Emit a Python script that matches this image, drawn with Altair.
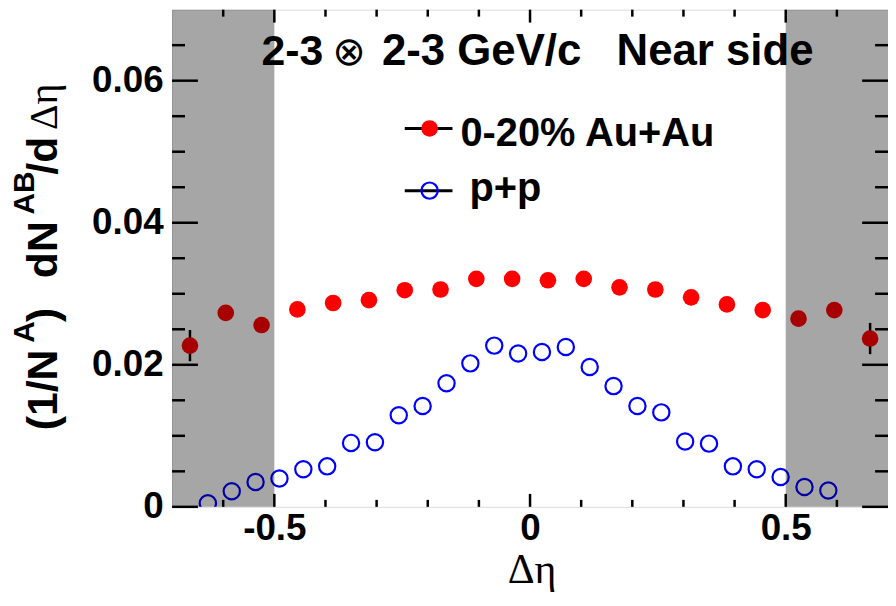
import altair as alt
import pandas as pd

# ---------------- data ----------------
auau_x = [-0.665, -0.595, -0.525, -0.455, -0.385, -0.315, -0.245, -0.175, -0.105, -0.035,
          0.035, 0.105, 0.175, 0.245, 0.315, 0.385, 0.455, 0.525, 0.595, 0.665]
auau_y = [0.0227, 0.0273, 0.0256, 0.0278, 0.0287, 0.0291, 0.0305, 0.0306, 0.0321, 0.0321,
          0.0319, 0.0321, 0.0309, 0.0306, 0.0295, 0.0285, 0.0277, 0.0265, 0.0277, 0.0237]
auau_err = [0.0022, 0.0010, 0.0009, 0.0007, 0.0007, 0.0007, 0.0007, 0.0007, 0.0007, 0.0007,
            0.0007, 0.0007, 0.0007, 0.0007, 0.0007, 0.0007, 0.0007, 0.0009, 0.0010, 0.0022]

pp_x = [-0.6300, -0.5833, -0.5367, -0.4900, -0.4433, -0.3967, -0.3500, -0.3033, -0.2567,
        -0.2100, -0.1633, -0.1167, -0.0700, -0.0233, 0.0233, 0.0700, 0.1167, 0.1633,
        0.2100, 0.2567, 0.3033, 0.3500, 0.3967, 0.4433, 0.4900, 0.5367, 0.5833]
pp_y = [0.0005, 0.0022, 0.0035, 0.0040, 0.0053, 0.0057, 0.0090, 0.0091, 0.0129,
        0.0142, 0.0174, 0.0202, 0.0227, 0.0216, 0.0218, 0.0225, 0.0197, 0.0170,
        0.0142, 0.0133, 0.0092, 0.0089, 0.0057, 0.0053, 0.0042, 0.0028, 0.0023]

band_lo = [-0.7, 0.5]
band_hi = [-0.5, 0.7]

x_major = [-0.5, 0.0, 0.5]
x_minor = [-0.6, -0.4, -0.3, -0.2, -0.1, 0.1, 0.2, 0.3, 0.4, 0.6]
y_major = [0.0, 0.02, 0.04, 0.06]
y_minor = [0.005, 0.01, 0.015, 0.025, 0.03, 0.035, 0.045, 0.05, 0.055, 0.065]

x_domain = [-0.7, 0.7]
y_domain = [0.0, 0.07]

# ---------------- layout ----------------
W, H = 720, 500
SANS = "Liberation Sans"
SERIF = "Liberation Serif"
RED_SIZE = 280
BLUE_SIZE = 268

xs = alt.Scale(domain=x_domain, nice=False, zero=False)
ys = alt.Scale(domain=y_domain, nice=False, zero=False)

auau = pd.DataFrame({"x": auau_x, "y": auau_y,
                     "lo": [a - e for a, e in zip(auau_y, auau_err)],
                     "hi": [a + e for a, e in zip(auau_y, auau_err)]})
pp = pd.DataFrame({"x": pp_x, "y": pp_y})
bands = pd.DataFrame({"x0": band_lo, "x1": band_hi})
one = pd.DataFrame({"k": [0]})

xaxis = alt.Axis(values=x_major, domain=False, ticks=False, grid=False, title=None,
                 labelFont=SANS, labelFontWeight="bold", labelFontSize=37,
                 labelColor="black", labelPadding=4, labelFlush=False,
                 labelExpr="replace(format(datum.value, '.1~f'), '\u2212', '-')")
yaxis = alt.Axis(values=y_major, domain=False, ticks=False, grid=False, title=None,
                 labelFont=SANS, labelFontWeight="bold", labelFontSize=37,
                 labelColor="black", labelPadding=9, format=".2~f")


def X(field):
    return alt.X(field, scale=xs, axis=xaxis)


def Y(field):
    return alt.Y(field, scale=ys, axis=yaxis)


err = alt.Chart(auau).mark_rule(color="black", strokeWidth=2.5).encode(
    x=X("x:Q"), y=Y("lo:Q"), y2="hi:Q",
)
red = alt.Chart(auau).mark_point(shape="circle", filled=True, color="#ff0000",
                                 size=RED_SIZE, opacity=1).encode(
    x=X("x:Q"), y=Y("y:Q"),
)
blue = alt.Chart(pp).mark_point(shape="circle", filled=False, color="#0000ff",
                                size=BLUE_SIZE, strokeWidth=2.2, opacity=1, clip=True).encode(
    x=X("x:Q"), y=Y("y:Q"),
)
shade = alt.Chart(bands).mark_rect(color="black", opacity=0.35).encode(
    x=X("x0:Q"), x2="x1:Q", y=alt.value(0), y2=alt.value(H),
)


def xticks(vals, length, top):
    y0 = 0 if top else H
    y1 = length if top else H - length
    return alt.Chart(pd.DataFrame({"v": vals})).mark_rule(color="black", strokeWidth=2.5).encode(
        x=X("v:Q"), y=alt.value(y0), y2=alt.value(y1))


def yticks(vals, length, right):
    x0 = W if right else 0
    x1 = W - length if right else length
    return alt.Chart(pd.DataFrame({"v": vals})).mark_rule(color="black", strokeWidth=2.5).encode(
        y=Y("v:Q"), x=alt.value(x0), x2=alt.value(x1))


tick_layers = [
    xticks(x_major, 13, False), xticks(x_minor, 7, False),
    xticks(x_major, 13, True), xticks(x_minor, 7, True),
    yticks(y_major, 26, False), yticks(y_minor, 13, False),
    yticks(y_major, 26, True), yticks(y_minor, 13, True),
]


def label(text, x, y, size, font=SANS, weight="bold", angle=0, align="left"):
    return alt.Chart(one).mark_text(font=font, fontSize=size, fontWeight=weight,
                                    angle=angle, align=align, baseline="alphabetic",
                                    color="black").encode(
        x=alt.value(x), y=alt.value(y), text=alt.value(text))


texts = [
    label("2-3", 90, 56, 43),
    label("\u2297", 161, 56, 40, font="DejaVu Sans", weight="normal"),
    label("2-3 GeV/c", 211, 56, 44),
    label("Near side", 447, 56, 44),
    label("0-20% Au+Au", 290, 137, 40),
    label("p+p", 299, 192, 40),
    # x title
    label("\u0394\u03b7", 362, 577, 42, font=SERIF, weight="normal", align="center"),
    # y title pieces (rotated)
    label("(1/N", -116, 423, 43, angle=270),
    label("A", -139, 335, 30, angle=270),
    label(")", -116, 314, 43, angle=270),
    label("dN", -116, 270, 43, angle=270),
    label("AB", -139, 206, 30, angle=270),
    label("/d", -116, 166, 43, angle=270),
    label("\u0394\u03b7", -116, 121, 40, font=SERIF, weight="normal", angle=270),
]

legend = [
    alt.Chart(one).mark_rule(color="black", strokeWidth=3).encode(
        x=alt.value(234), x2=alt.value(282), y=alt.value(119.5)),
    alt.Chart(one).mark_rule(color="black", strokeWidth=3).encode(
        x=alt.value(234), x2=alt.value(282), y=alt.value(182)),
    alt.Chart(one).mark_point(shape="circle", filled=True, color="#ff0000", size=RED_SIZE,
                              opacity=1).encode(x=alt.value(259), y=alt.value(119.5)),
    alt.Chart(one).mark_point(shape="circle", filled=False, color="#0000ff", size=BLUE_SIZE,
                              strokeWidth=2.2, opacity=1).encode(x=alt.value(259), y=alt.value(182)),
]

chart = alt.layer(
    err, red, blue, shade, *tick_layers, *legend, *texts
).properties(
    width=W, height=H,
    autosize=alt.AutoSizeParams(type="none"),
    padding={"left": 165, "top": 0, "right": 0, "bottom": 90},
).configure_view(
    stroke="black", strokeWidth=3, fill="white"
).configure(background="white")

chart.save("out.html", embed_options={"renderer": "svg", "actions": False})
